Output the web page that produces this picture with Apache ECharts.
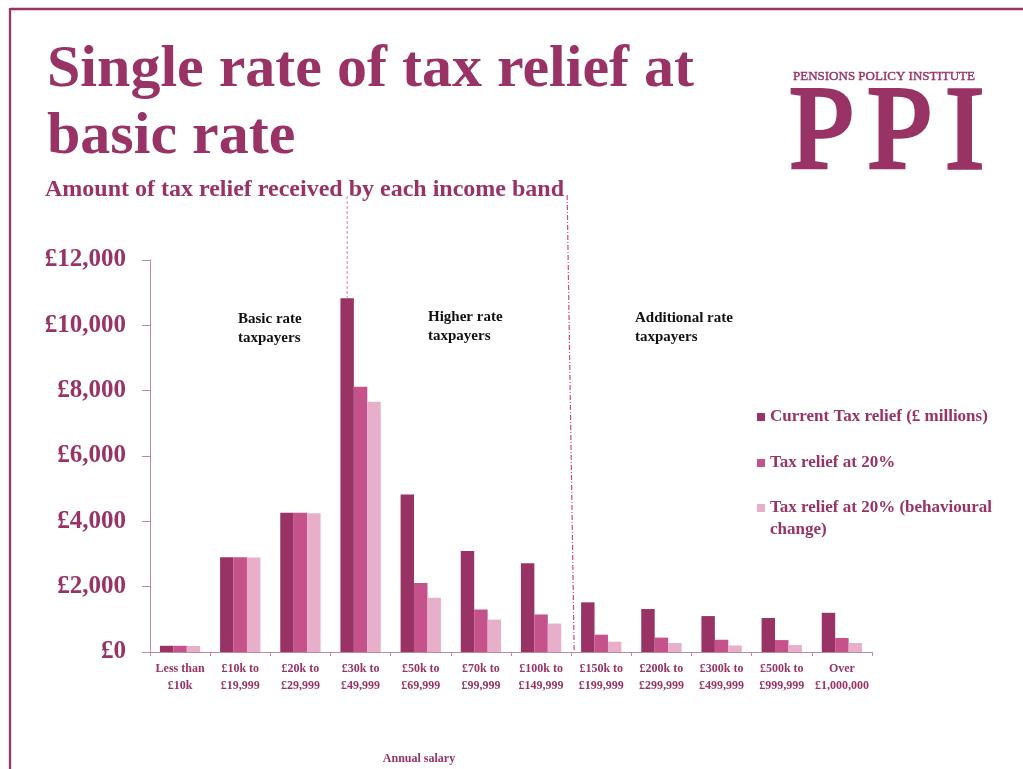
<!DOCTYPE html>
<html>
<head>
<meta charset="utf-8">
<script src="https://cdn.jsdelivr.net/npm/echarts@6/dist/echarts.min.js"></script>
<style>
  html, body { margin: 0; padding: 0; background: #ffffff; }
  #chart { width: 1023px; height: 769px; }
</style>
</head>
<body>
<div id="chart"></div>
<script>
// Income bands (x axis categories)
const incomeBands = [
  'Less than\n£10k', '£10k to\n£19,999', '£20k to\n£29,999', '£30k to\n£49,999',
  '£50k to\n£69,999', '£70k to\n£99,999', '£100k to\n£149,999', '£150k to\n£199,999',
  '£200k to\n£299,999', '£300k to\n£499,999', '£500k to\n£999,999', 'Over\n£1,000,000'
];

// Tax relief by band, £ millions
const currentRelief         = [190, 2900, 4260, 10830, 4820, 3090, 2720, 1520, 1315, 1100, 1040, 1200];
const reliefAt20            = [190, 2900, 4260, 8120, 2110, 1300, 1150, 530, 440, 375, 365, 430];
const reliefAt20Behavioural = [185, 2890, 4250, 7660, 1660, 990, 870, 315, 275, 200, 215, 275];

const seriesNames = [
  'Current Tax relief (£ millions)',
  'Tax relief at 20%',
  'Tax relief at 20% (behavioural change)'
];

// Value axis range
const yMin = 0, yMax = 12000, yStep = 2000;

const PLUM = '#993366';
const BAR_COLORS = ['#993366', '#C5528A', '#E7AFC9'];
const AXIS_COLOR = '#BC88A3';
const SERIF = "'Liberation Serif', 'DejaVu Serif', serif";

const chart = echarts.init(document.getElementById('chart'), null, { renderer: 'canvas' });

function poundFormat(v) {
  return '£' + String(v).replace(/\B(?=(\d{3})+(?!\d))/g, ',');
}

const legendText = {
  color: PLUM, fontFamily: SERIF, fontWeight: 'bold', fontSize: 17, lineHeight: 22
};

// widely spaced logo letters
const logoLetters = [['P', 789], ['P', 867], ['I', 945]].map(function (l) {
  return { type: 'text', x: l[1], y: 137, style: { text: l[0], fill: PLUM, stroke: PLUM, lineWidth: 3.5,
      font: "118px " + SERIF, verticalAlign: 'middle' } };
});

const staticGraphics = [
  // frame
  { type: 'line', shape: { x1: 10, y1: 9, x2: 1023, y2: 9 }, style: { stroke: PLUM, lineWidth: 2.3 } },
  { type: 'line', shape: { x1: 10, y1: 8, x2: 10, y2: 769 }, style: { stroke: PLUM, lineWidth: 2.3 } },
  // headings
  { type: 'text', x: 47, y: 70, style: { text: 'Single rate of tax relief at', fill: PLUM,
      font: "bold 60px " + SERIF, verticalAlign: 'middle' } },
  { type: 'text', x: 47, y: 137, style: { text: 'basic rate', fill: PLUM,
      font: "bold 60px " + SERIF, verticalAlign: 'middle' } },
  { type: 'text', x: 45, y: 190, style: { text: 'Amount of tax relief received by each income band', fill: PLUM,
      font: "bold 24px " + SERIF, verticalAlign: 'middle' } },
  // PPI mark
  { type: 'text', x: 793, y: 77, style: { text: 'PENSIONS POLICY INSTITUTE', fill: PLUM,
      stroke: PLUM, lineWidth: 0.4, font: "13px " + SERIF, verticalAlign: 'middle' } }
].concat(logoLetters, [
  // band annotations
  { type: 'text', x: 238, y: 310, style: { text: 'Basic rate\ntaxpayers', fill: '#111111',
      font: "bold 15px " + SERIF, lineHeight: 19, verticalAlign: 'top' } },
  { type: 'text', x: 428, y: 308, style: { text: 'Higher rate\ntaxpayers', fill: '#111111',
      font: "bold 15px " + SERIF, lineHeight: 19, verticalAlign: 'top' } },
  { type: 'text', x: 635, y: 309, style: { text: 'Additional rate\ntaxpayers', fill: '#111111',
      font: "bold 15px " + SERIF, lineHeight: 19, verticalAlign: 'top' } },
  // axis title
  { type: 'text', x: 419, y: 759, style: { text: 'Annual salary', fill: PLUM,
      font: "bold 12px " + SERIF, align: 'center', verticalAlign: 'middle' } }
]);

const option = {
  backgroundColor: '#ffffff',
  animation: false,
  grid: { left: 150, right: 151, top: 260, bottom: 117 },
  legend: [
    {
      data: [seriesNames[0]], left: 757, top: 406, padding: 0, orient: 'vertical',
      itemWidth: 8, itemHeight: 8, icon: 'rect', selectedMode: false, textStyle: legendText
    },
    {
      data: [seriesNames[1]], left: 757, top: 452, padding: 0, orient: 'vertical',
      itemWidth: 8, itemHeight: 8, icon: 'rect', selectedMode: false, textStyle: legendText
    },
    {
      // icon sits beside the first of the two text lines
      data: [{ name: seriesNames[2], icon: 'path://M0,0H8V8H0Z M0,29.95H8V30H0Z' }],
      left: 757, top: 497, padding: 0, orient: 'vertical',
      itemWidth: 8, itemHeight: 30, selectedMode: false, textStyle: legendText,
      formatter: function (name) { return name.replace(' (behavioural ', ' (behavioural\n'); }
    }
  ],
  xAxis: {
    type: 'category',
    data: incomeBands,
    axisLine: { lineStyle: { color: AXIS_COLOR, width: 1 } },
    axisTick: { show: true, length: 4, interval: 0, lineStyle: { color: AXIS_COLOR } },
    axisLabel: {
      interval: 0, margin: 8, color: PLUM, fontFamily: SERIF, fontWeight: 'bold',
      fontSize: 12, lineHeight: 17
    },
    splitLine: { show: false }
  },
  yAxis: {
    type: 'value',
    min: yMin, max: yMax, interval: yStep,
    axisLine: { show: true, lineStyle: { color: AXIS_COLOR, width: 1 } },
    axisTick: { show: true, length: 8, lineStyle: { color: AXIS_COLOR } },
    axisLabel: {
      margin: 24, color: PLUM, fontFamily: SERIF, fontWeight: 'bold', fontSize: 25,
      formatter: poundFormat
    },
    splitLine: { show: false }
  },
  series: [
    { name: seriesNames[0], type: 'bar', data: currentRelief, barGap: '0%', barCategoryGap: '33%',
      itemStyle: { color: BAR_COLORS[0] } },
    { name: seriesNames[1], type: 'bar', data: reliefAt20, barGap: '0%', barCategoryGap: '33%',
      itemStyle: { color: BAR_COLORS[1] } },
    { name: seriesNames[2], type: 'bar', data: reliefAt20Behavioural, barGap: '0%', barCategoryGap: '33%',
      itemStyle: { color: BAR_COLORS[2] } }
  ],
  graphic: { elements: staticGraphics }
};

chart.setOption(option);

// Dashed dividers, placed from the axis scales
const c3 = chart.convertToPixel({ xAxisIndex: 0 }, 3);
const c4 = chart.convertToPixel({ xAxisIndex: 0 }, 4);
const band = c4 - c3;
const barW = band * (1 - 0.33) / 3;
const peakX = c3 - barW;
const peakY = chart.convertToPixel({ yAxisIndex: 0 }, currentRelief[3]);
const c6 = chart.convertToPixel({ xAxisIndex: 0 }, 6);
const c7 = chart.convertToPixel({ xAxisIndex: 0 }, 7);
const boundaryX = (c6 + c7) / 2;
const baseY = chart.convertToPixel({ yAxisIndex: 0 }, 0);

chart.setOption({
  graphic: {
    elements: staticGraphics.concat([
      { type: 'line', shape: { x1: peakX, y1: 196, x2: peakX, y2: peakY },
        style: { stroke: '#E17FAE', lineWidth: 1, lineDash: [3, 2] } },
      { type: 'line', shape: { x1: boundaryX - 4, y1: 195, x2: boundaryX + 3, y2: baseY },
        style: { stroke: '#D0498A', lineWidth: 1.2, lineDash: [5, 2, 1, 2] } }
    ])
  }
});
</script>
</body>
</html>
